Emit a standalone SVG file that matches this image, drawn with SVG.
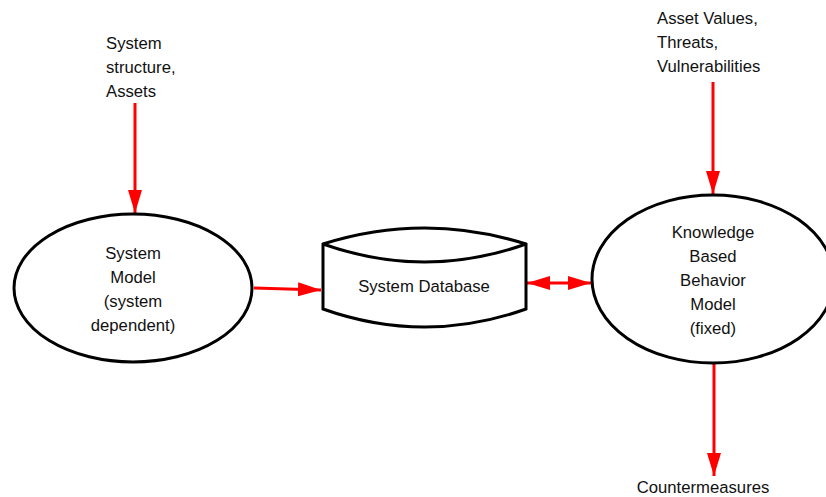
<svg xmlns="http://www.w3.org/2000/svg" width="826" height="497" viewBox="0 0 826 497">
<style>
text{font-family:"Liberation Sans",Arial,sans-serif;font-size:16.7px;fill:#111}
.c{text-anchor:middle}
.shape{fill:#fff;stroke:#000;stroke-width:3}
.conn{stroke:#f00;stroke-width:3;fill:none}
</style>
<defs>
<marker id="ah" markerUnits="userSpaceOnUse" markerWidth="24" markerHeight="16" refX="23" refY="7" orient="auto-start-reverse" viewBox="0 0 24 14">
<path d="M0,0 L23,7 L0,14 Z" fill="#f00"/>
</marker>
</defs>
<rect width="826" height="497" fill="#fff"/>
<g id="labels">
<text x="106" y="49">System</text>
<text x="106" y="73">structure,</text>
<text x="106" y="97">Assets</text>
<text x="657" y="24">Asset Values,</text>
<text x="657" y="48">Threats,</text>
<text x="657" y="72">Vulnerabilities</text>
<text x="703" y="493" class="c">Countermeasures</text>
</g>
<g id="connectors">
<line class="conn" x1="135" y1="103" x2="135" y2="213" marker-end="url(#ah)"/>
<line class="conn" x1="254" y1="288" x2="321" y2="290" marker-end="url(#ah)"/>
<line class="conn" x1="527" y1="283" x2="591" y2="283" marker-start="url(#ah)" marker-end="url(#ah)"/>
<line class="conn" x1="713" y1="82" x2="713" y2="194" marker-end="url(#ah)"/>
<line class="conn" x1="714" y1="364" x2="714" y2="476" marker-end="url(#ah)"/>
</g>
<g id="system-model">
<ellipse class="shape" cx="133" cy="288" rx="119" ry="74"/>
<text x="133" y="259" class="c">System</text>
<text x="133" y="283" class="c">Model</text>
<text x="133" y="307" class="c">(system</text>
<text x="133" y="331" class="c">dependent)</text>
</g>
<g id="system-database">
<path class="shape" d="M323,244 Q424.5,212 526,244 L526,309 Q424.5,345 323,309 Z"/>
<path class="shape" fill="none" d="M323,244 Q424.5,280 526,244"/>
<text x="424" y="292" class="c">System Database</text>
</g>
<g id="knowledge-model">
<ellipse class="shape" cx="713" cy="279" rx="121" ry="84"/>
<text x="713" y="238" class="c">Knowledge</text>
<text x="713" y="262" class="c">Based</text>
<text x="713" y="286" class="c">Behavior</text>
<text x="713" y="310" class="c">Model</text>
<text x="713" y="334" class="c">(fixed)</text>
</g>
</svg>
